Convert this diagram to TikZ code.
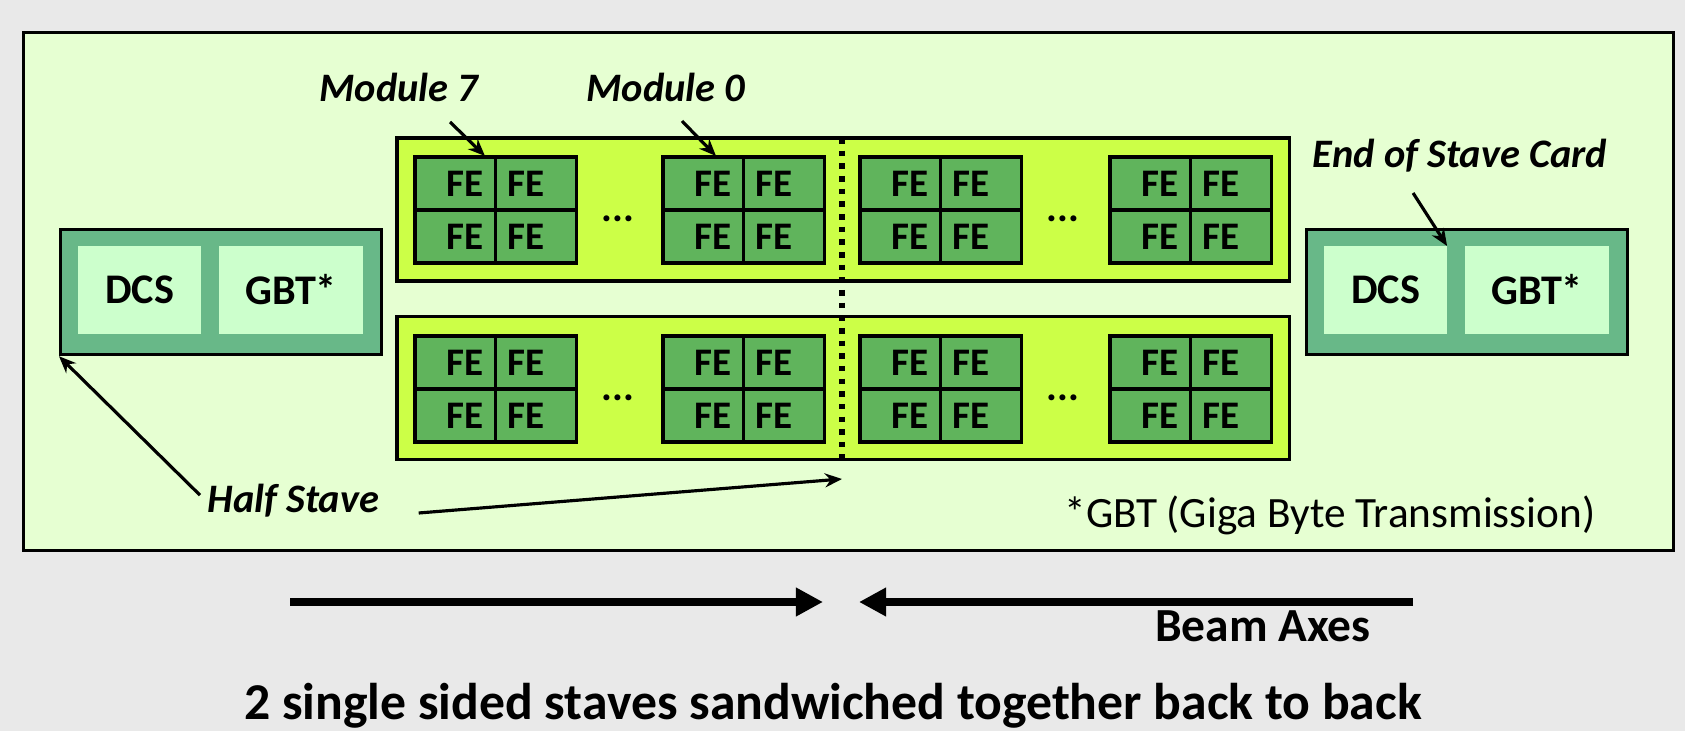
\documentclass[tikz,border=0pt]{standalone}
\usepackage{fontspec}
\setmainfont{Carlito}
\usetikzlibrary{positioning, arrows.meta}

\definecolor{bggray}{HTML}{E9E9E9}
\definecolor{panelfill}{HTML}{E6FFD2}
\definecolor{stavegreen}{HTML}{CCFF47}
\definecolor{modgreen}{HTML}{60B45C}
\definecolor{cardgreen}{HTML}{68B888}
\definecolor{chipgreen}{HTML}{CCFFCC}

\begin{document}
\begin{tikzpicture}[x=0.01cm, y=-0.01cm]

\tikzstyle{panel} = [rectangle, draw=black, line width=0.9pt, fill=panelfill, inner sep=0pt, anchor=north west]
\tikzstyle{card} = [rectangle, draw=black, line width=0.9pt, fill=cardgreen, minimum width=3.21cm, minimum height=1.25cm, inner sep=0pt, anchor=north west]
\tikzstyle{chip} = [rectangle, fill=chipgreen, minimum height=0.88cm, inner sep=0pt, outer sep=0pt, font=\fontsize{12}{14}\selectfont\bfseries, anchor=north west]
\tikzstyle{stave} = [rectangle, draw=black, line width=0.9pt, fill=stavegreen, minimum width=8.92cm, minimum height=1.43cm, inner sep=0pt, outer sep=0pt, anchor=north west]
\tikzstyle{fel} = [rectangle, draw=black, line width=0.9pt, fill=modgreen, minimum height=0.53cm, inner xsep=0.12cm, inner ysep=0pt, outer sep=0pt, text width=0.565cm, align=right, font=\fontsize{11.1}{13}\selectfont\bfseries, anchor=north west]
\tikzstyle{fer} = [fel, align=left]
\tikzstyle{dots} = [font=\fontsize{11.5}{13}\selectfont\bfseries, inner sep=0pt, anchor=base]
\tikzstyle{note} = [font=\fontsize{11.5}{14}\selectfont\bfseries\itshape, inner sep=0pt]
\tikzstyle{foot} = [font=\fontsize{12.3}{14}\selectfont, inner sep=0pt]
\tikzstyle{pointer} = [line width=0.9pt, -{Stealth[length=0.17cm, width=0.14cm]}]
\tikzstyle{midline} = [line width=1.8pt, dash pattern=on 1.6pt off 2pt]
\tikzstyle{beamarrow} = [line width=2.3pt, -{Triangle[length=0.27cm, width=0.27cm]}]

\fill[bggray] (0,0) rectangle (1685,731);
\useasboundingbox (0,0) rectangle (1685,731);

% Nodes
\node (panel) [panel, minimum width=16.49cm, minimum height=5.18cm] at (22,31) {};

\node (lcard) [card] at (59,228) {};
\node (ldcs) [chip, minimum width=1.23cm] at (78,246) {DCS};
\node (lgbt) [chip, minimum width=1.44cm, right=0.18cm of ldcs] {GBT*};
\node (rcard) [card] at (1305,228) {};
\node (rdcs) [chip, minimum width=1.23cm] at (1324,246) {DCS};
\node (rgbt) [chip, minimum width=1.44cm, right=0.18cm of rdcs] {GBT*};

\node (topst) [stave] at (397,138) {};
\node (botst) [stave, below=0.35cm of topst] {};

% four FE chips per module, top and bottom stave
\foreach \x [count=\i] in {415,663,860,1110} {
  \foreach \y/\s in {157/t,336/b} {
    \node (fe\s\i1) [fel] at (\x,\y) {FE};
    \node (fe\s\i2) [fer, right=0pt of fe\s\i1] {FE};
    \node (fe\s\i3) [fel, below=0pt of fe\s\i1] {FE};
    \node (fe\s\i4) [fer, right=0pt of fe\s\i3] {FE};
  }
}

\node (dt1) [dots] at (618,222) {...};
\node (dt2) [dots] at (1063,222) {...};
\node (db1) [dots] at (618,401) {...};
\node (db2) [dots] at (1063,401) {...};

\coordinate (mid) at (842,0);
\coordinate (m7tip) at (485,156);
\coordinate (m0tip) at (716,156);
\coordinate (hstip) at (842,479);

\node (mod7) [note, anchor=base] at (399,102) {Module 7};
\node (mod0) [note, anchor=base] at (666,102) {Module 0};
\node (eosc) [note, anchor=base] at (1460,168) {End of Stave Card};
\node (half) [note, anchor=base west] at (207,513) {Half Stave};
\node (gbtnote) [foot, anchor=base east] at (1596,528) {*GBT (Giga Byte Transmission)};

\coordinate (beamL) at (290,602);
\coordinate (beamLtip) at (823,602);
\coordinate (beamR) at (1413,602);
\coordinate (beamRtip) at (859,602);
\node (beam) [anchor=base, font=\fontsize{13.5}{16}\selectfont\bfseries] at (1263,642) {Beam Axes};
\node (caption) [anchor=base, font=\fontsize{14.7}{17}\selectfont\bfseries] at (833,719) {2 single sided staves sandwiched together back to back};

% Arrows
\draw [midline] (mid |- topst.north) -- (mid |- botst.south);
\draw [pointer] ([shift={(-35,-34)}]m7tip) -- (m7tip);
\draw [pointer] ([shift={(-34,-35)}]m0tip) -- (m0tip);
\draw [pointer] ([shift={(-34,-53)}]rdcs.north east) -- (rdcs.north east);
\draw [pointer] ([xshift=-0.07cm, yshift=0.06cm]half.west) -- (lcard.south west);
\draw [pointer] ([xshift=0.39cm]half.base east) -- (hstip);
\draw [beamarrow] (beamL) -- (beamLtip);
\draw [beamarrow] (beamR) -- (beamRtip);

\end{tikzpicture}
\end{document}
